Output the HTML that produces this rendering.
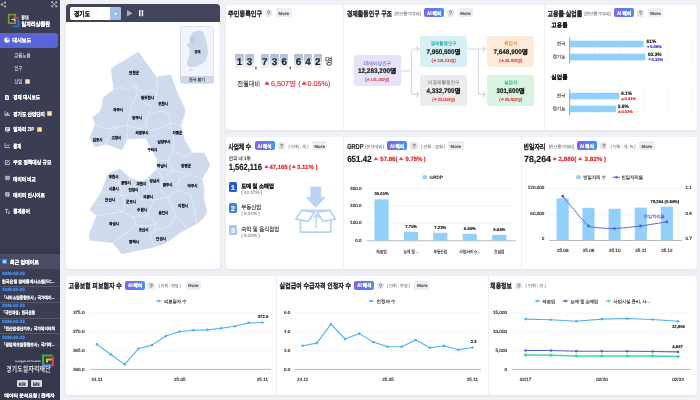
<!DOCTYPE html><html lang="ko"><head><meta charset="utf-8"><title>dashboard</title><style>
*{box-sizing:border-box;margin:0;padding:0}
html,body{width:700px;height:400px;overflow:hidden;background:#f0f1f7;font-family:"Liberation Sans",sans-serif;color:#222}
.a{position:absolute;white-space:nowrap;line-height:1}
.p{position:absolute;background:#fff;border-radius:3px;box-shadow:0 1px 2.5px rgba(90,100,140,.11)}
.ai{position:absolute;height:9.2px;border-radius:2px;background:linear-gradient(90deg,#7f64f0,#4690f3)}
.q{position:absolute;width:7.4px;height:7.4px;border-radius:50%;background:#e4e5ea}
.m{position:absolute;height:9.2px;border-radius:2px;background:#edeef1}
.n{position:absolute;background:#f5b921;width:5px;height:5px;border-radius:1px}
.dv{position:absolute;width:.9px;background:#eef0f4}
svg{position:absolute;left:0;top:0;overflow:visible}
svg text{font-family:"Liberation Sans",sans-serif;text-rendering:geometricPrecision}
</style></head><body>
<div class="a" style="left:0;top:0;width:59.7px;height:400px;background:#3b3d53"></div>
<svg style="left:.3px;top:1.2px" width="7.4" height="7.4" viewBox="0 0 8 8"><g fill="#c8cad6"><circle cx="5.6" cy="1.6" r="1"/><circle cx="1.8" cy="3.8" r="1"/><circle cx="5.6" cy="6" r="1"/></g><path d="M5.6 1.6L1.8 3.8L5.6 6" stroke="#c8cad6" stroke-width=".6" fill="none"/></svg>
<svg style="left:50.6px;top:1.4px" width="6.6" height="6.6" viewBox="0 0 8 8"><path d="M1.2 1.2L6.8 6.8M6.8 1.2L1.2 6.8" stroke="#c8cad6" stroke-width=".9" fill="none"/><path d="M.9 2.8V.9H2.8M5.2 .9H7.1V2.8M7.1 5.2V7.1H5.2M2.8 7.1H.9V5.2" stroke="#d4d6e0" stroke-width="1" fill="none"/></svg>
<svg width="700" height="400" viewBox="0 0 700 400"><rect x="8.7" y="14.6" width="6.6" height="8.6" fill="none" stroke="#7f9a33" stroke-width="1.6"/><path d="M13.2 17.8H18.6" stroke="#d8402f" stroke-width="1.9" fill="none"/><path d="M18.4 18.6V26.4H12.8" stroke="#2f6fc4" stroke-width="1.9" fill="none"/><path d="M11.6 19.4H14.6V21.2" stroke="#e9eaf0" stroke-width="1" fill="none"/></svg>
<div class="a" style="left:0;top:32.8px;width:58.3px;height:15.6px;background:#5864da;border-radius:0 3px 3px 0"></div>
<svg style="left:4.4px;top:36.8px" width="6" height="6" viewBox="0 0 6 6"><circle cx="3" cy="3" r="2.8" fill="#f2f3fa"/><path d="M3 3V.2A2.8 2.8 0 0 1 5.8 3Z" fill="#5864da"/><path d="M3.6 2.4V.9A1.9 1.9 0 0 1 5.1 2.4Z" fill="#f2f3fa"/></svg>
<div class="n" style="left:25px;top:78.7px"></div>
<svg style="left:4.6px;top:94.5px" width="5" height="5" viewBox="0 0 5 5"><path d="M0 0H3L4 1V5H0Z" fill="#eceef4"/><path d="M1 2H3M1 3.4H3" stroke="#3b3d53" stroke-width=".6"/></svg>
<svg style="left:4.6px;top:111.1px" width="5" height="5" viewBox="0 0 5 5"><path d="M0 0V4.6H5" fill="none" stroke="#d9dbe4" stroke-width=".7"/><path d="M1.3 4V2M2.6 4V1M3.9 4V2.4" stroke="#d9dbe4" stroke-width=".8"/></svg>
<div class="n" style="left:47.2px;top:111.1px"></div>
<svg style="left:4.6px;top:126.9px" width="5" height="5" viewBox="0 0 5 5"><rect x="0" y=".2" width="5" height="3.6" fill="#eceef4"/><path d="M.8 4.8H4.2" stroke="#eceef4" stroke-width=".7"/><path d="M.8 1.4H4.2M.8 2.6H3" stroke="#3b3d53" stroke-width=".5"/></svg>
<div class="n" style="left:37.4px;top:126.9px"></div>
<svg style="left:4.6px;top:143.1px" width="5" height="5" viewBox="0 0 5 5"><path d="M0 0V4.6H5" fill="none" stroke="#d9dbe4" stroke-width=".7"/><path d="M1 3.4L2.3 2.2L3.2 2.9L4.6 1.2" fill="none" stroke="#d9dbe4" stroke-width=".7"/></svg>
<svg style="left:4.6px;top:159.7px" width="5" height="5" viewBox="0 0 5 5"><path d="M.3 .6H3M.3 .6V4.6H4.4V2.6" fill="none" stroke="#eceef4" stroke-width=".7"/><path d="M1.6 3.4L4.6 .2" stroke="#eceef4" stroke-width=".9"/></svg>
<svg style="left:4.6px;top:176.1px" width="5" height="5" viewBox="0 0 5 5"><path d="M0 .3H5M2.5 .3V2M1 .5L.2 3H1.9ZM4 .5L3.2 3H4.9Z" fill="none" stroke="#eceef4" stroke-width=".6"/><path d="M1.4 4.6L2.5 2L3.6 4.6" fill="none" stroke="#eceef4" stroke-width=".6"/></svg>
<svg style="left:4.6px;top:192.4px" width="5" height="5" viewBox="0 0 5 5"><rect x=".3" y=".3" width="4.2" height="4.2" fill="#d9dbe4"/><path d="M1.2 1.6H3.6M1.2 2.6H3.6M1.2 3.5H2.8" stroke="#3b3d53" stroke-width=".45"/></svg>
<svg style="left:4.6px;top:208.7px" width="5" height="5" viewBox="0 0 5 5"><path d="M0 .4H3.2M1.6 .4V4.4" stroke="#eceef4" stroke-width=".7" fill="none"/><path d="M2.8 3H5M3 4.4H4.8" stroke="#eceef4" stroke-width=".7"/></svg>
<div class="a" style="left:0;top:246px;width:59.7px;height:8px;background:linear-gradient(rgba(40,42,60,0),rgba(40,42,60,.4))"></div>
<div class="a" style="left:0;top:254px;width:59.7px;height:15px;background:#4a4d65"></div>
<div class="a" style="left:2px;top:259px;width:5.2px;height:5.4px;background:#3d8bf2;border-radius:1px"></div>
<div class="a" style="left:0;top:349px;width:59.7px;height:51px;background:#35374c"></div>
<div class="a" style="left:0;top:285.6px;width:59.7px;height:.7px;background:#55586f"></div>
<div class="a" style="left:0;top:302px;width:59.7px;height:.7px;background:#55586f"></div>
<div class="a" style="left:0;top:317.6px;width:59.7px;height:.7px;background:#55586f"></div>
<div class="a" style="left:0;top:332.8px;width:59.7px;height:.7px;background:#55586f"></div>
<svg width="700" height="400" viewBox="0 0 700 400"><path d="M42 354.4H52.5V356.6H44.2V364H42Z" fill="#3fae49"/><path d="M42 364H52.5V366.4H42Z" fill="#2b7fd6"/><path d="M51.8 356.6H54V366.4H51.8Z" fill="#e8412c"/><path d="M46 358.4H51.8V360.4H48V362.4H46Z" fill="#f5b921"/></svg>
<div class="a" style="left:17px;top:380.4px;width:10.5px;height:6.7px;background:#d6d8df;border-radius:1px"></div>
<div class="a" style="left:31px;top:380.4px;width:10.5px;height:6.7px;background:#d6d8df;border-radius:1px"></div>
<div class="p" style="left:65.9px;top:4.2px;width:154px;height:265.2px"></div>
<div class="a" style="left:65.9px;top:4.2px;width:154px;height:18.2px;background:#41445b;border-radius:3.5px 3.5px 0 0"></div>
<div class="a" style="left:70.3px;top:7.4px;width:50.6px;height:12.6px;background:#fff;border-radius:2px"></div>
<div class="a" style="left:110px;top:7.4px;width:10.9px;height:12.6px;background:#9fbfe9;border-radius:0 2px 2px 0"></div>
<svg style="left:113.9px;top:12.7px" width="3.2" height="2.2" viewBox="0 0 3.2 2.2"><path d="M0 0H3.2L1.6 2.2Z" fill="#fff"/></svg>
<svg style="left:127.2px;top:10px" width="5.6" height="6.6" viewBox="0 0 5.6 6.6"><path d="M0 0L5.6 3.3L0 6.6Z" fill="#a9acc1"/></svg>
<svg style="left:138.6px;top:10.2px" width="4.2" height="6.2" viewBox="0 0 4.2 6.2"><path d="M0 0H1.5V6.2H0ZM2.7 0H4.2V6.2H2.7Z" fill="#eef0f6"/></svg>
<div class="a" style="left:179.6px;top:26px;width:34.7px;height:58px;background:#f2f5fb;border:.8px solid #d9e1f0;border-radius:2.5px"></div>
<div class="a" style="left:180.2px;top:75.6px;width:33.5px;height:7.8px;background:#cdd8ec;border-radius:0 0 2px 2px"></div>
<svg width="700" height="400" viewBox="0 0 700 400"><path d="M191.2 34.4L194.5 31.8L199.1 30.6L202.7 32.2L204.4 36L205.7 40.2L206.9 45L207.7 49.2L207.4 55L205.4 60.8L203.2 62.8L200.8 64.1L197.5 65.6L194.2 66.6L191 66.8L188.4 66.2L187.4 64L187.2 61.6L188.6 58.2L189.5 55L190 51.5L190 48.4L188 46.6L186.7 44.3L188.8 43.6L190.9 42.6L190.2 40.4L190 38.5L190.4 36.2Z" fill="#cdd8ec" stroke="#c0cde6" stroke-width=".3"/><ellipse cx="191.2" cy="69.9" rx="2.3" ry=".8" transform="rotate(-12 191.2 69.9)" fill="#cdd8ec"/><path d="M190.6 38.6L192.8 37.6L194.6 39L194.4 41.6L192.4 42.8L190.8 41.8Z" fill="#c4d1ea" stroke="#8e9dbd" stroke-width=".35"/></svg>
<svg width="700" height="400" viewBox="0 0 700 400"><polygon points="138.3,52 156.7,77.4 158.5,76.5 170.7,75.1 177.7,94 184.7,108 185,113 181,125 184,139 192,153 204,153 210,165 202,179 203.8,188 203.8,199.8 207,212 202.7,218.9 197,223.4 187,229 180,232.4 170,240.3 164.4,243.6 154.3,247 137.4,250.4 121.6,253.8 116,247 112.6,242.5 101.4,241.4 90,240.3 89,234.6 96.9,215.5 90,209.9 93.5,204.3 101.4,191.9 104,185 108,174 120,169 130,178 142,182 148,178 157,169 157,159 149,144 146,138 127,139 122,150 106,144 95,147 90,138 95,125 93,117 99,113 101.5,108 103.4,97.5 113.9,89.6 111.2,68.6" fill="#cfdaee" stroke="#cfdaee" stroke-width=".6" stroke-linejoin="round"/><polyline points="113.9,89.6 120,87 127,89.6 135.7,85.2 137.5,87.9 142.7,94 145.3,91.4 152.3,90.5 156.7,94 157.6,85.2 156.7,77.4" fill="none" stroke="#fff" stroke-opacity=".85" stroke-width=".45" stroke-linejoin="round"/><polyline points="142.7,94 141,99.2 144.5,103.6 151.5,105.3 155,101 156.7,94" fill="none" stroke="#fff" stroke-opacity=".85" stroke-width=".45" stroke-linejoin="round"/><polyline points="135.7,85.2 136.6,95.7 132.2,104.5 129.6,115 127,125 127,139" fill="none" stroke="#fff" stroke-opacity=".85" stroke-width=".45" stroke-linejoin="round"/><polyline points="95,125 106,129 118,127 127,125" fill="none" stroke="#fff" stroke-opacity=".85" stroke-width=".45" stroke-linejoin="round"/><polyline points="151.5,105.3 148,115 146,125 140,129 130,126 127,125" fill="none" stroke="#fff" stroke-opacity=".85" stroke-width=".45" stroke-linejoin="round"/><polyline points="148,115 160,111 168,113 170,123 181,125" fill="none" stroke="#fff" stroke-opacity=".85" stroke-width=".45" stroke-linejoin="round"/><polyline points="146,125 149,131 164,127 170,123" fill="none" stroke="#fff" stroke-opacity=".85" stroke-width=".45" stroke-linejoin="round"/><polyline points="149,131 146,138" fill="none" stroke="#fff" stroke-opacity=".85" stroke-width=".45" stroke-linejoin="round"/><polyline points="170,123 174,139 173,151 184,157 192,153" fill="none" stroke="#fff" stroke-opacity=".85" stroke-width=".45" stroke-linejoin="round"/><polyline points="173,151 168,161 157,159" fill="none" stroke="#fff" stroke-opacity=".85" stroke-width=".45" stroke-linejoin="round"/><polyline points="168,161 174,171 157,169" fill="none" stroke="#fff" stroke-opacity=".85" stroke-width=".45" stroke-linejoin="round"/><polyline points="174,171 188,174 202,179" fill="none" stroke="#fff" stroke-opacity=".85" stroke-width=".45" stroke-linejoin="round"/><polyline points="188,174 185.8,176 179,179.5 176.8,190.8" fill="none" stroke="#fff" stroke-opacity=".85" stroke-width=".45" stroke-linejoin="round"/><polyline points="176.8,190.8 167.8,197.5 154.3,199.8" fill="none" stroke="#fff" stroke-opacity=".85" stroke-width=".45" stroke-linejoin="round"/><polyline points="176.8,190.8 190.3,194 194,210 197,223.4" fill="none" stroke="#fff" stroke-opacity=".85" stroke-width=".45" stroke-linejoin="round"/><polyline points="154.3,199.8 147.5,215.5 156.5,223.4 154.3,231.3 170,225.6 175.7,215.5 167.8,197.5" fill="none" stroke="#fff" stroke-opacity=".85" stroke-width=".45" stroke-linejoin="round"/><polyline points="175.7,215.5 187,229" fill="none" stroke="#fff" stroke-opacity=".85" stroke-width=".45" stroke-linejoin="round"/><polyline points="96.9,215.5 122.8,212 133,216.6 147.5,215.5" fill="none" stroke="#fff" stroke-opacity=".85" stroke-width=".45" stroke-linejoin="round"/><polyline points="112.6,242.5 127.3,232.4 136.3,225.6 133,216.6" fill="none" stroke="#fff" stroke-opacity=".85" stroke-width=".45" stroke-linejoin="round"/><polyline points="136.3,225.6 147.5,225.6 156.5,223.4" fill="none" stroke="#fff" stroke-opacity=".85" stroke-width=".45" stroke-linejoin="round"/><polyline points="154.3,231.3 149.8,235.8 154.3,247" fill="none" stroke="#fff" stroke-opacity=".85" stroke-width=".45" stroke-linejoin="round"/><polyline points="93.5,204.3 109.3,205.4 122.8,212" fill="none" stroke="#fff" stroke-opacity=".85" stroke-width=".45" stroke-linejoin="round"/><polyline points="101.4,191.9 122.8,195.3 125,204.3 122.8,212" fill="none" stroke="#fff" stroke-opacity=".85" stroke-width=".45" stroke-linejoin="round"/><polyline points="122.8,195.3 136.3,194 140.8,199.8 154.3,199.8" fill="none" stroke="#fff" stroke-opacity=".85" stroke-width=".45" stroke-linejoin="round"/><polyline points="136.3,194 134,184 130,178" fill="none" stroke="#fff" stroke-opacity=".85" stroke-width=".45" stroke-linejoin="round"/><polyline points="108,174 118,183 122.8,195.3" fill="none" stroke="#fff" stroke-opacity=".85" stroke-width=".45" stroke-linejoin="round"/><polyline points="118,183 130,178" fill="none" stroke="#fff" stroke-opacity=".85" stroke-width=".45" stroke-linejoin="round"/><polyline points="148,178 150,188 140.8,199.8" fill="none" stroke="#fff" stroke-opacity=".85" stroke-width=".45" stroke-linejoin="round"/><polyline points="157,169 162,178 160,190 167.8,197.5" fill="none" stroke="#fff" stroke-opacity=".85" stroke-width=".45" stroke-linejoin="round"/><polyline points="162,178 174,171" fill="none" stroke="#fff" stroke-opacity=".85" stroke-width=".45" stroke-linejoin="round"/><polyline points="106,144 110,132 118,127" fill="none" stroke="#fff" stroke-opacity=".85" stroke-width=".45" stroke-linejoin="round"/></svg>
<div class="p" style="left:225.7px;top:4.5px;width:471.4px;height:125.4px"></div>
<div class="dv" style="left:343.1px;top:4.5px;height:125.4px"></div>
<div class="dv" style="left:544.1px;top:4.5px;height:125.4px"></div>
<div class="q" style="left:265.0px;top:9.2px"></div>
<div class="m" style="left:276px;top:8.2px;width:15.6px"></div>
<div class="a" style="left:235.1px;top:54px;width:8.6px;height:14.2px;border-radius:1.2px;background:linear-gradient(#b2bdd3 0,#c8d1e1 48%,#dbe1ec 52%,#f0f2f7 100%)"></div>
<div class="a" style="left:245.1px;top:54px;width:8.6px;height:14.2px;border-radius:1.2px;background:linear-gradient(#b2bdd3 0,#c8d1e1 48%,#dbe1ec 52%,#f0f2f7 100%)"></div>
<div class="a" style="left:260.5px;top:54px;width:8.6px;height:14.2px;border-radius:1.2px;background:linear-gradient(#b2bdd3 0,#c8d1e1 48%,#dbe1ec 52%,#f0f2f7 100%)"></div>
<div class="a" style="left:270.2px;top:54px;width:8.6px;height:14.2px;border-radius:1.2px;background:linear-gradient(#b2bdd3 0,#c8d1e1 48%,#dbe1ec 52%,#f0f2f7 100%)"></div>
<div class="a" style="left:279.9px;top:54px;width:8.6px;height:14.2px;border-radius:1.2px;background:linear-gradient(#b2bdd3 0,#c8d1e1 48%,#dbe1ec 52%,#f0f2f7 100%)"></div>
<div class="a" style="left:294.1px;top:54px;width:8.6px;height:14.2px;border-radius:1.2px;background:linear-gradient(#b2bdd3 0,#c8d1e1 48%,#dbe1ec 52%,#f0f2f7 100%)"></div>
<div class="a" style="left:303.8px;top:54px;width:8.6px;height:14.2px;border-radius:1.2px;background:linear-gradient(#b2bdd3 0,#c8d1e1 48%,#dbe1ec 52%,#f0f2f7 100%)"></div>
<div class="a" style="left:313.5px;top:54px;width:8.6px;height:14.2px;border-radius:1.2px;background:linear-gradient(#b2bdd3 0,#c8d1e1 48%,#dbe1ec 52%,#f0f2f7 100%)"></div>
<div class="ai" style="left:424px;top:8.2px;width:20.2px"></div>
<div class="q" style="left:446.8px;top:9.2px"></div>
<div class="m" style="left:457.7px;top:8.2px;width:15.6px"></div>
<div class="a" style="left:353.7px;top:55.3px;width:47px;height:31px;background:#e6e4fb;border-radius:3px"></div>
<div class="a" style="left:420.2px;top:36.2px;width:47px;height:31px;background:#d6f0f4;border-radius:3px"></div>
<div class="a" style="left:420.2px;top:74.8px;width:47px;height:31px;background:#ececee;border-radius:3px"></div>
<div class="a" style="left:487.3px;top:36.2px;width:47px;height:31px;background:#fdebd9;border-radius:3px"></div>
<div class="a" style="left:487.3px;top:74.8px;width:47px;height:31px;background:#d9f4e3;border-radius:3px"></div>
<svg width="700" height="400" viewBox="0 0 700 400"><g fill="none" stroke="#d6d8df" stroke-width="1.1" stroke-linecap="round" stroke-linejoin="round"><path d="M401 71H411.6M418.6 49H413.6Q411.6 49 411.6 51V92.4Q411.6 94.4 413.6 94.4H418.6"/><path d="M416.6 46.8L419 49L416.6 51.2M416.6 92.2L419 94.4L416.6 96.6"/><path d="M468 49H485M478.4 49V92.4Q478.4 94.4 480.4 94.4H485"/><path d="M483 46.8L485.4 49L483 51.2M483 92.2L485.4 94.4L483 96.6"/></g></svg>
<div class="ai" style="left:613.9px;top:8.2px;width:20.2px"></div>
<div class="q" style="left:636.8px;top:9.2px"></div>
<div class="m" style="left:647.7px;top:8.2px;width:15.6px"></div>
<svg width="700" height="400" viewBox="0 0 700 400"><line x1="594.6" y1="37.4" x2="594.6" y2="63.4" stroke="#eceef2" stroke-width=".6"/><line x1="619.4" y1="37.4" x2="619.4" y2="63.4" stroke="#eceef2" stroke-width=".6"/><line x1="643.8" y1="37.4" x2="643.8" y2="63.4" stroke="#eceef2" stroke-width=".6"/><line x1="668.2" y1="37.4" x2="668.2" y2="63.4" stroke="#eceef2" stroke-width=".6"/><line x1="691.6" y1="37.4" x2="691.6" y2="63.4" stroke="#eceef2" stroke-width=".6"/><line x1="569.7" y1="37.4" x2="569.7" y2="63.4" stroke="#555" stroke-width=".6"/><line x1="594.6" y1="89.4" x2="594.6" y2="115.4" stroke="#eceef2" stroke-width=".6"/><line x1="619.4" y1="89.4" x2="619.4" y2="115.4" stroke="#eceef2" stroke-width=".6"/><line x1="643.8" y1="89.4" x2="643.8" y2="115.4" stroke="#eceef2" stroke-width=".6"/><line x1="668.2" y1="89.4" x2="668.2" y2="115.4" stroke="#eceef2" stroke-width=".6"/><line x1="691.6" y1="89.4" x2="691.6" y2="115.4" stroke="#eceef2" stroke-width=".6"/><line x1="569.7" y1="89.4" x2="569.7" y2="115.4" stroke="#555" stroke-width=".6"/><rect x="570" y="40.7" width="73.5" height="6.6" fill="#90d0fa"/><rect x="570" y="53.7" width="75.3" height="6.6" fill="#90d0fa"/><rect x="570" y="92.8" width="49.2" height="6.6" fill="#90d0fa"/><rect x="570" y="105.6" width="45.9" height="6.6" fill="#90d0fa"/></svg>
<div class="p" style="left:225.7px;top:136.8px;width:471.4px;height:132.6px"></div>
<div class="dv" style="left:343.1px;top:136.8px;height:132.6px"></div>
<div class="dv" style="left:521.1px;top:136.8px;height:132.6px"></div>
<div class="ai" style="left:254.5px;top:141.2px;width:20.2px"></div>
<div class="q" style="left:277.8px;top:142.2px"></div>
<div class="m" style="left:311.9px;top:141.2px;width:15.6px"></div>
<div class="a" style="left:228.9px;top:182.3px;width:8.1px;height:10.2px;background:#1f5fd2;border-radius:1.6px"></div>
<div class="a" style="left:228.9px;top:203px;width:8.1px;height:10.2px;background:#3b86ea;border-radius:1.6px"></div>
<div class="a" style="left:228.9px;top:224.9px;width:8.1px;height:10.2px;background:#a3c8f3;border-radius:1.6px"></div>
<svg width="700" height="400" viewBox="0 0 700 400"><path d="M310.6 186.9H320.8V197.4H325.4L315.7 207.4L306 197.4H310.6Z" fill="#b9d2f5" stroke="#b9d2f5" stroke-width=".5" stroke-linejoin="round"/><g fill="none" stroke="#b9d2f5" stroke-width="1.7" stroke-linejoin="round" stroke-linecap="round"><path d="M301.4 210.4L295.8 219.2L308.2 221.4L314.4 212.2ZM330 210.4L335.4 219.2L323.2 221.4L317.2 212.2ZM301.4 210.4H330M300.4 221.6V232.2H330.8V221.6"/><path d="M316.2 227.6V214.6M313.6 217.6L316.2 214.4L318.8 217.6" stroke-width="1.3"/></g></svg>
<div class="ai" style="left:387px;top:141.2px;width:20.2px"></div>
<div class="q" style="left:410.3px;top:142.2px"></div>
<div class="m" style="left:448px;top:141.2px;width:15.6px"></div>
<svg width="700" height="400" viewBox="0 0 700 400"><circle cx="424.8" cy="177.2" r="2.3" fill="#90d0fa"/><line x1="366.6" y1="188.6" x2="515.7" y2="188.6" stroke="#eceef2" stroke-width=".6"/><line x1="366.6" y1="206" x2="515.7" y2="206" stroke="#eceef2" stroke-width=".6"/><line x1="366.6" y1="223.4" x2="515.7" y2="223.4" stroke="#eceef2" stroke-width=".6"/><line x1="366.6" y1="240.8" x2="515.7" y2="240.8" stroke="#888" stroke-width=".6"/><rect x="374.5" y="199.4" width="14.2" height="41.2" fill="#90d0fa"/><rect x="404" y="231.8" width="14.2" height="8.8" fill="#90d0fa"/><rect x="433.2" y="232.8" width="14.2" height="7.8" fill="#90d0fa"/><rect x="462.7" y="233.8" width="14.2" height="6.8" fill="#90d0fa"/><rect x="492.2" y="234.9" width="14.2" height="5.7" fill="#90d0fa"/></svg>
<div class="ai" style="left:576.8px;top:141.2px;width:20.2px"></div>
<div class="q" style="left:600.1px;top:142.2px"></div>
<div class="m" style="left:639px;top:141.2px;width:15.6px"></div>
<svg width="700" height="400" viewBox="0 0 700 400"><circle cx="578.4" cy="177.2" r="2.3" fill="#90d0fa"/><line x1="612.5" y1="177.3" x2="620" y2="177.3" stroke="#5b5fc7" stroke-width=".9"/><circle cx="616.3" cy="177.3" r="1.3" fill="#5b5fc7"/><line x1="549.5" y1="188.6" x2="682" y2="188.6" stroke="#eceef2" stroke-width=".6"/><line x1="549.5" y1="214.6" x2="682" y2="214.6" stroke="#eceef2" stroke-width=".6"/><line x1="549.5" y1="240.5" x2="682" y2="240.5" stroke="#888" stroke-width=".6"/><rect x="556.6" y="198.4" width="12.1" height="41.9" fill="#90d0fa"/><rect x="582.4" y="207.8" width="12.1" height="32.5" fill="#90d0fa"/><rect x="608.6" y="208.8" width="12.1" height="31.5" fill="#90d0fa"/><rect x="634.8" y="207.6" width="12.1" height="32.7" fill="#90d0fa"/><rect x="660.8" y="206.7" width="12.1" height="33.6" fill="#90d0fa"/><path d="M562.8 196.2C564.3 198.0 585.4 224.1 588.5 226C591.6 227.9 611.3 228.6 614.4 228.6C617.5 228.6 637.5 226.4 640.6 226C643.7 225.6 665.2 222.1 666.8 221.9" fill="none" stroke="#5b5fc7" stroke-width=".95"/><circle cx="562.8" cy="196.2" r="1.45" fill="#5b5fc7"/><circle cx="588.5" cy="226" r="1.45" fill="#5b5fc7"/><circle cx="614.4" cy="228.6" r="1.45" fill="#5b5fc7"/><circle cx="640.6" cy="226" r="1.45" fill="#5b5fc7"/><circle cx="666.8" cy="221.9" r="1.45" fill="#5b5fc7"/></svg>
<div class="p" style="left:65.9px;top:276px;width:631.2px;height:118.9px"></div>
<div class="dv" style="left:276px;top:276px;height:118.9px"></div>
<div class="dv" style="left:488px;top:276px;height:118.9px"></div>
<div class="ai" style="left:125px;top:280.8px;width:20.2px"></div>
<div class="q" style="left:147.3px;top:281.8px"></div>
<div class="m" style="left:185.5px;top:280.8px;width:15.6px"></div>
<div class="ai" style="left:354.3px;top:280.8px;width:20.2px"></div>
<div class="q" style="left:376.6px;top:281.8px"></div>
<div class="m" style="left:414.4px;top:280.8px;width:15.6px"></div>
<div class="q" style="left:515.1px;top:281.8px"></div>
<svg width="700" height="400" viewBox="0 0 700 400"><line x1="90.4" y1="313.2" x2="270.9" y2="313.2" stroke="#eceef2" stroke-width=".6"/><line x1="90.4" y1="331.9" x2="270.9" y2="331.9" stroke="#eceef2" stroke-width=".6"/><line x1="90.4" y1="350.6" x2="270.9" y2="350.6" stroke="#eceef2" stroke-width=".6"/><line x1="90.4" y1="369.4" x2="270.9" y2="369.4" stroke="#888" stroke-width=".6"/><polyline points="97.0,344.4 110.8,354.5 124.6,364.4 138.3,348.8 152.1,345.1 165.9,336.0 179.7,331.5 193.5,330.3 207.3,329.9 221.1,328.3 234.8,326.2 248.6,322.9 262.4,322.5" fill="none" stroke="#4db4ea" stroke-width="1.1" stroke-linejoin="round"/><circle cx="97.0" cy="344.4" r="1.3" fill="#4db4ea"/><circle cx="110.8" cy="354.5" r="1.3" fill="#4db4ea"/><circle cx="124.6" cy="364.4" r="1.3" fill="#4db4ea"/><circle cx="138.3" cy="348.8" r="1.3" fill="#4db4ea"/><circle cx="152.1" cy="345.1" r="1.3" fill="#4db4ea"/><circle cx="165.9" cy="336.0" r="1.3" fill="#4db4ea"/><circle cx="179.7" cy="331.5" r="1.3" fill="#4db4ea"/><circle cx="193.5" cy="330.3" r="1.3" fill="#4db4ea"/><circle cx="207.3" cy="329.9" r="1.3" fill="#4db4ea"/><circle cx="221.1" cy="328.3" r="1.3" fill="#4db4ea"/><circle cx="234.8" cy="326.2" r="1.3" fill="#4db4ea"/><circle cx="248.6" cy="322.9" r="1.3" fill="#4db4ea"/><circle cx="262.4" cy="322.5" r="1.3" fill="#4db4ea"/><line x1="156" y1="301" x2="161.6" y2="301" stroke="#4db4ea" stroke-width=".9"/><circle cx="158.8" cy="301" r="1.2" fill="#4db4ea"/></svg>
<svg width="700" height="400" viewBox="0 0 700 400"><line x1="295.3" y1="313.2" x2="480.9" y2="313.2" stroke="#eceef2" stroke-width=".6"/><line x1="295.3" y1="331.9" x2="480.9" y2="331.9" stroke="#eceef2" stroke-width=".6"/><line x1="295.3" y1="350.6" x2="480.9" y2="350.6" stroke="#eceef2" stroke-width=".6"/><line x1="295.3" y1="369.4" x2="480.9" y2="369.4" stroke="#888" stroke-width=".6"/><polyline points="302.7,345.8 316.8,343.1 331.0,324.2 345.1,339.0 359.3,333.6 373.4,342.1 387.5,346.8 401.7,346.8 415.8,340.1 430.0,347.8 444.1,345.8 458.3,349.8 472.4,347.5" fill="none" stroke="#4db4ea" stroke-width="1.1" stroke-linejoin="round"/><circle cx="302.7" cy="345.8" r="1.3" fill="#4db4ea"/><circle cx="316.8" cy="343.1" r="1.3" fill="#4db4ea"/><circle cx="331.0" cy="324.2" r="1.3" fill="#4db4ea"/><circle cx="345.1" cy="339.0" r="1.3" fill="#4db4ea"/><circle cx="359.3" cy="333.6" r="1.3" fill="#4db4ea"/><circle cx="373.4" cy="342.1" r="1.3" fill="#4db4ea"/><circle cx="387.5" cy="346.8" r="1.3" fill="#4db4ea"/><circle cx="401.7" cy="346.8" r="1.3" fill="#4db4ea"/><circle cx="415.8" cy="340.1" r="1.3" fill="#4db4ea"/><circle cx="430.0" cy="347.8" r="1.3" fill="#4db4ea"/><circle cx="444.1" cy="345.8" r="1.3" fill="#4db4ea"/><circle cx="458.3" cy="349.8" r="1.3" fill="#4db4ea"/><circle cx="472.4" cy="347.5" r="1.3" fill="#4db4ea"/><line x1="368.5" y1="301" x2="374.1" y2="301" stroke="#4db4ea" stroke-width=".9"/><circle cx="371.3" cy="301" r="1.2" fill="#4db4ea"/></svg>
<svg width="700" height="400" viewBox="0 0 700 400"><line x1="512" y1="313.2" x2="690.9" y2="313.2" stroke="#eceef2" stroke-width=".6"/><line x1="512" y1="331.9" x2="690.9" y2="331.9" stroke="#eceef2" stroke-width=".6"/><line x1="512" y1="350.6" x2="690.9" y2="350.6" stroke="#eceef2" stroke-width=".6"/><line x1="512" y1="369.4" x2="690.9" y2="369.4" stroke="#888" stroke-width=".6"/><polyline points="525.5,319.1 550.9,319.8 576.3,321.2 601.8,319.1 627.2,318.5 652.6,319.5 678.0,321.2" fill="none" stroke="#4db4ea" stroke-width="1.1" stroke-linejoin="round"/><circle cx="525.5" cy="319.1" r="1.3" fill="#4db4ea"/><circle cx="550.9" cy="319.8" r="1.3" fill="#4db4ea"/><circle cx="576.3" cy="321.2" r="1.3" fill="#4db4ea"/><circle cx="601.8" cy="319.1" r="1.3" fill="#4db4ea"/><circle cx="627.2" cy="318.5" r="1.3" fill="#4db4ea"/><circle cx="652.6" cy="319.5" r="1.3" fill="#4db4ea"/><circle cx="678.0" cy="321.2" r="1.3" fill="#4db4ea"/><polyline points="525.5,350.5 550.9,350.5 576.3,351.2 601.8,351.2 627.2,351.2 652.6,351.5 678.0,351.9" fill="none" stroke="#5b5fc7" stroke-width="1.1" stroke-linejoin="round"/><circle cx="525.5" cy="350.5" r="1.3" fill="#5b5fc7"/><circle cx="550.9" cy="350.5" r="1.3" fill="#5b5fc7"/><circle cx="576.3" cy="351.2" r="1.3" fill="#5b5fc7"/><circle cx="601.8" cy="351.2" r="1.3" fill="#5b5fc7"/><circle cx="627.2" cy="351.2" r="1.3" fill="#5b5fc7"/><circle cx="652.6" cy="351.5" r="1.3" fill="#5b5fc7"/><circle cx="678.0" cy="351.9" r="1.3" fill="#5b5fc7"/><polyline points="525.5,354.9 550.9,355.2 576.3,355.9 601.8,355.9 627.2,355.9 652.6,355.9 678.0,356.5" fill="none" stroke="#3ddc97" stroke-width="1.5" stroke-linejoin="round"/><circle cx="525.5" cy="354.9" r="1.6" fill="#3ddc97"/><circle cx="550.9" cy="355.2" r="1.6" fill="#3ddc97"/><circle cx="576.3" cy="355.9" r="1.6" fill="#3ddc97"/><circle cx="601.8" cy="355.9" r="1.6" fill="#3ddc97"/><circle cx="627.2" cy="355.9" r="1.6" fill="#3ddc97"/><circle cx="652.6" cy="355.9" r="1.6" fill="#3ddc97"/><circle cx="678.0" cy="356.5" r="1.6" fill="#3ddc97"/><line x1="534.6" y1="301" x2="540.2" y2="301" stroke="#4db4ea" stroke-width=".9"/><circle cx="537.4" cy="301" r="1.2" fill="#4db4ea"/><line x1="562.6" y1="301" x2="568.2" y2="301" stroke="#5b5fc7" stroke-width=".9"/><circle cx="565.4" cy="301" r="1.2" fill="#5b5fc7"/><line x1="605.6" y1="301" x2="611.2" y2="301" stroke="#3ddc97" stroke-width=".9"/><circle cx="608.4" cy="301" r="1.2" fill="#3ddc97"/></svg>
<svg width="700" height="400" viewBox="0 0 700 400" style="pointer-events:none;will-change:transform"><text x="21.5" y="18.73" font-size="4.8" font-weight="bold" fill="#f4f4f8" stroke="#f4f4f8" stroke-width="0.18" textLength="7.5" lengthAdjust="spacingAndGlyphs">경기도</text>
<text x="21.5" y="25.83" font-size="6.2" font-weight="bold" fill="#fff" stroke="#fff" stroke-width="0.2" textLength="28.4" lengthAdjust="spacingAndGlyphs">일자리상황판</text>
<text x="12.6" y="42.02" font-size="5.6" font-weight="bold" fill="#fff" stroke="#fff" stroke-width="0.2" textLength="18.4" lengthAdjust="spacingAndGlyphs">대시보드</text>
<text x="14.2" y="57.42" font-size="5.6" fill="#c9cbdb" stroke="#c9cbdb" stroke-width="0.18" textLength="16.3" lengthAdjust="spacingAndGlyphs">고용노동</text>
<text x="14.2" y="69.62" font-size="5.6" fill="#c9cbdb" stroke="#c9cbdb" stroke-width="0.18" textLength="8.3" lengthAdjust="spacingAndGlyphs">인구</text>
<text x="14.2" y="83.22" font-size="5.6" fill="#c9cbdb" stroke="#c9cbdb" stroke-width="0.18" textLength="8.3" lengthAdjust="spacingAndGlyphs">산업</text>
<text x="27.5" y="82.67" font-size="3.8" font-weight="bold" fill="#fff" stroke="#fff" stroke-width="0.14" text-anchor="middle">N</text>
<text x="13.2" y="99.02" font-size="5.6" font-weight="bold" fill="#fff" stroke="#fff" stroke-width="0.2" textLength="26.8" lengthAdjust="spacingAndGlyphs">경제 대시보드</text>
<text x="13.2" y="115.62" font-size="5.6" font-weight="bold" fill="#fff" stroke="#fff" stroke-width="0.2" textLength="31.8" lengthAdjust="spacingAndGlyphs">경기도 산업단지</text>
<text x="49.7" y="115.07" font-size="3.8" font-weight="bold" fill="#fff" stroke="#fff" stroke-width="0.14" text-anchor="middle">N</text>
<text x="13.2" y="131.42" font-size="5.6" font-weight="bold" fill="#fff" stroke="#fff" stroke-width="0.2" textLength="21.0" lengthAdjust="spacingAndGlyphs">일자리 ZIP</text>
<text x="39.9" y="130.87" font-size="3.8" font-weight="bold" fill="#fff" stroke="#fff" stroke-width="0.14" text-anchor="middle">N</text>
<text x="13.2" y="147.62" font-size="5.6" font-weight="bold" fill="#fff" stroke="#fff" stroke-width="0.2" textLength="8.0" lengthAdjust="spacingAndGlyphs">통계</text>
<text x="13.2" y="164.22" font-size="5.6" font-weight="bold" fill="#fff" stroke="#fff" stroke-width="0.2" textLength="38.3" lengthAdjust="spacingAndGlyphs">주요 정책대상 규모</text>
<text x="13.2" y="180.62" font-size="5.6" font-weight="bold" fill="#fff" stroke="#fff" stroke-width="0.2" textLength="22.6" lengthAdjust="spacingAndGlyphs">데이터 비교</text>
<text x="13.2" y="196.92" font-size="5.6" font-weight="bold" fill="#fff" stroke="#fff" stroke-width="0.2" textLength="31.8" lengthAdjust="spacingAndGlyphs">데이터 인사이트</text>
<text x="13.2" y="213.22" font-size="5.6" font-weight="bold" fill="#fff" stroke="#fff" stroke-width="0.2" textLength="16.8" lengthAdjust="spacingAndGlyphs">통계용어</text>
<text x="4.6" y="263.17" font-size="3.8" font-weight="bold" fill="#fff" stroke="#fff" stroke-width="0.14" text-anchor="middle">N</text>
<text x="10" y="263.75" font-size="5.7" font-weight="bold" fill="#fff" stroke="#fff" stroke-width="0.2" textLength="29" lengthAdjust="spacingAndGlyphs">최근 업데이트</text>
<text x="2" y="274.62" font-size="4.5" font-weight="bold" fill="#4a98f7" stroke="#4a98f7" stroke-width="0.17" textLength="22.6" lengthAdjust="spacingAndGlyphs">2026-02-23</text>
<text x="2" y="282.66" font-size="4.6" font-weight="bold" fill="#ecedf3" stroke="#ecedf3" stroke-width="0.17" textLength="52.6" lengthAdjust="spacingAndGlyphs">한국은행 경제통계시스템(EC...</text>
<text x="2" y="291.22" font-size="4.5" font-weight="bold" fill="#4a98f7" stroke="#4a98f7" stroke-width="0.17" textLength="22.6" lengthAdjust="spacingAndGlyphs">2026-02-23</text>
<text x="2" y="298.66" font-size="4.6" font-weight="bold" fill="#ecedf3" stroke="#ecedf3" stroke-width="0.17" textLength="52.6" lengthAdjust="spacingAndGlyphs">「서비스업동향조사」국가데이...</text>
<text x="2" y="307.22" font-size="4.5" font-weight="bold" fill="#4a98f7" stroke="#4a98f7" stroke-width="0.17" textLength="22.6" lengthAdjust="spacingAndGlyphs">2026-02-23</text>
<text x="2" y="314.06" font-size="4.6" font-weight="bold" fill="#ecedf3" stroke="#ecedf3" stroke-width="0.17" textLength="33" lengthAdjust="spacingAndGlyphs">「국민계정」한국은행</text>
<text x="2" y="323.22" font-size="4.5" font-weight="bold" fill="#4a98f7" stroke="#4a98f7" stroke-width="0.17" textLength="22.6" lengthAdjust="spacingAndGlyphs">2026-02-23</text>
<text x="2" y="330.06" font-size="4.6" font-weight="bold" fill="#ecedf3" stroke="#ecedf3" stroke-width="0.17" textLength="53" lengthAdjust="spacingAndGlyphs">「전산업생산지수」국가데이터처</text>
<text x="2" y="338.82" font-size="4.5" font-weight="bold" fill="#4a98f7" stroke="#4a98f7" stroke-width="0.17" textLength="22.6" lengthAdjust="spacingAndGlyphs">2026-02-23</text>
<text x="2" y="346.06" font-size="4.6" font-weight="bold" fill="#ecedf3" stroke="#ecedf3" stroke-width="0.17" textLength="52.6" lengthAdjust="spacingAndGlyphs">「광업제조업동향조사」국가데...</text>
<path d="M7.0 366.4 H9.0 L7.4 369.0 M10.4 365.8 V369.8 M9.2 367.2 H10.4 M9.2 368.4 H10.4 M7.8 371.4 a1.3 1.1 0 1 0 2.6 0 a1.3 1.1 0 1 0 -2.6 0 M12.55 366.6 H14.75 L12.95 370.8 M16.05 365.6 V372.4 M21.1 366.2 H18.5 V368.6 H21.3 M19.9 368.8 V370.8 M17.7 371.0 H22.3 M23.85 367.0 a1.1 1.1 0 1 0 2.2 0 a1.1 1.1 0 1 0 -2.2 0 M27.15 365.6 V369.0 M24.05 369.8 H27.05 V370.9 H24.25 V372.2 H27.45 M29.0 366.6 H31.6 M30.4 366.6 L29.0 370.6 M30.2 368.2 L31.6 370.4 M32.6 365.6 V372.2 M32.6 368.4 H33.6 M34.75 366.4 H36.95 V368.0 H34.95 V369.8 H37.35 M38.35 365.6 V372.2 M39.9 366.8 H42.1 M41.1 366.8 L39.9 370.4 M40.9 368.2 L42.1 370.2 M42.9 366.0 V371.6 M42.9 368.4 H44.0 M44.1 365.6 V372.4 M48.05 366.2 H46.05 V368.4 H48.25 M49.25 365.6 V369.8 M49.25 367.4 H50.25 M46.25 370.2 V372.2 H49.85" fill="none" stroke="#f4f4f8" stroke-width=".75" stroke-linecap="round" stroke-linejoin="round"/>
<text x="15" y="361.66" font-size="2.4" fill="#d8d9e2" stroke="#d8d9e2" stroke-width="0.08" textLength="26" lengthAdjust="spacingAndGlyphs">Gyeonggido Job Foundation</text>
<text x="22.25" y="385.63" font-size="4.8" font-weight="bold" fill="#2a2c3a" stroke="#2a2c3a" stroke-width="0.18" text-anchor="middle">KR</text>
<text x="36.25" y="385.63" font-size="4.8" font-weight="bold" fill="#2a2c3a" stroke="#2a2c3a" stroke-width="0.18" text-anchor="middle">EN</text>
<text x="4.4" y="397.23" font-size="4.8" font-weight="bold" fill="#fff" stroke="#fff" stroke-width="0.18" textLength="50.0" lengthAdjust="spacingAndGlyphs">데이터 분석요청  |  관계자</text>
<text x="74" y="16.42" font-size="7" font-weight="bold" fill="#222" stroke="#222" stroke-width="0.2" textLength="16" lengthAdjust="spacingAndGlyphs">경기도</text>
<text x="189" y="81.36" font-size="4.6" fill="#2a2a33" stroke="#2a2a33" stroke-width="0.15" textLength="16" lengthAdjust="spacingAndGlyphs">전국 보기</text>
<text x="194.4" y="53.37" font-size="3.8" font-weight="bold" fill="#2a2a33" stroke="#2a2a33" stroke-width="0.14" textLength="6.2" lengthAdjust="spacingAndGlyphs">전국</text>
<text x="129.12" y="74.01" font-size="4.2" font-weight="bold" fill="#22222b" stroke="#22222b" stroke-width="0.15" textLength="9.8" lengthAdjust="spacingAndGlyphs">연천군</text>
<text x="141.1" y="98.61" font-size="4.2" font-weight="bold" fill="#22222b" stroke="#22222b" stroke-width="0.15" textLength="13.0" lengthAdjust="spacingAndGlyphs">동두천시</text>
<text x="158.32" y="104.71" font-size="4.2" font-weight="bold" fill="#22222b" stroke="#22222b" stroke-width="0.15" textLength="9.8" lengthAdjust="spacingAndGlyphs">포천시</text>
<text x="113.33" y="110.51" font-size="4.2" font-weight="bold" fill="#22222b" stroke="#22222b" stroke-width="0.15" textLength="9.8" lengthAdjust="spacingAndGlyphs">파주시</text>
<text x="132.12" y="118.91" font-size="4.2" font-weight="bold" fill="#22222b" stroke="#22222b" stroke-width="0.15" textLength="9.8" lengthAdjust="spacingAndGlyphs">양주시</text>
<text x="135.5" y="133.51" font-size="4.2" font-weight="bold" fill="#22222b" stroke="#22222b" stroke-width="0.15" textLength="13.0" lengthAdjust="spacingAndGlyphs">의정부시</text>
<text x="172.53" y="133.51" font-size="4.2" font-weight="bold" fill="#22222b" stroke="#22222b" stroke-width="0.15" textLength="9.8" lengthAdjust="spacingAndGlyphs">가평군</text>
<text x="92.72" y="140.91" font-size="4.2" font-weight="bold" fill="#22222b" stroke="#22222b" stroke-width="0.15" textLength="9.8" lengthAdjust="spacingAndGlyphs">김포시</text>
<text x="111.53" y="138.51" font-size="4.2" font-weight="bold" fill="#22222b" stroke="#22222b" stroke-width="0.15" textLength="9.8" lengthAdjust="spacingAndGlyphs">고양시</text>
<text x="157.5" y="143.11" font-size="4.2" font-weight="bold" fill="#22222b" stroke="#22222b" stroke-width="0.15" textLength="13.0" lengthAdjust="spacingAndGlyphs">남양주시</text>
<text x="147.53" y="150.91" font-size="4.2" font-weight="bold" fill="#22222b" stroke="#22222b" stroke-width="0.15" textLength="9.8" lengthAdjust="spacingAndGlyphs">구리시</text>
<text x="157.12" y="166.51" font-size="4.2" font-weight="bold" fill="#22222b" stroke="#22222b" stroke-width="0.15" textLength="9.8" lengthAdjust="spacingAndGlyphs">하남시</text>
<text x="181.12" y="167.11" font-size="4.2" font-weight="bold" fill="#22222b" stroke="#22222b" stroke-width="0.15" textLength="9.8" lengthAdjust="spacingAndGlyphs">양평군</text>
<text x="108.72" y="178.01" font-size="4.2" font-weight="bold" fill="#22222b" stroke="#22222b" stroke-width="0.15" textLength="9.8" lengthAdjust="spacingAndGlyphs">부천시</text>
<text x="120.92" y="183.51" font-size="4.2" font-weight="bold" fill="#22222b" stroke="#22222b" stroke-width="0.15" textLength="9.8" lengthAdjust="spacingAndGlyphs">광명시</text>
<text x="136.43" y="184.51" font-size="4.2" font-weight="bold" fill="#22222b" stroke="#22222b" stroke-width="0.15" textLength="9.8" lengthAdjust="spacingAndGlyphs">과천시</text>
<text x="149.62" y="181.81" font-size="4.2" font-weight="bold" fill="#22222b" stroke="#22222b" stroke-width="0.15" textLength="9.8" lengthAdjust="spacingAndGlyphs">성남시</text>
<text x="162.82" y="185.51" font-size="4.2" font-weight="bold" fill="#22222b" stroke="#22222b" stroke-width="0.15" textLength="9.8" lengthAdjust="spacingAndGlyphs">광주시</text>
<text x="187.62" y="187.11" font-size="4.2" font-weight="bold" fill="#22222b" stroke="#22222b" stroke-width="0.15" textLength="9.8" lengthAdjust="spacingAndGlyphs">여주시</text>
<text x="108.92" y="190.01" font-size="4.2" font-weight="bold" fill="#22222b" stroke="#22222b" stroke-width="0.15" textLength="9.8" lengthAdjust="spacingAndGlyphs">시흥시</text>
<text x="128.43" y="190.71" font-size="4.2" font-weight="bold" fill="#22222b" stroke="#22222b" stroke-width="0.15" textLength="9.8" lengthAdjust="spacingAndGlyphs">안양시</text>
<text x="143.32" y="197.51" font-size="4.2" font-weight="bold" fill="#22222b" stroke="#22222b" stroke-width="0.15" textLength="9.8" lengthAdjust="spacingAndGlyphs">의왕시</text>
<text x="105.12" y="200.51" font-size="4.2" font-weight="bold" fill="#22222b" stroke="#22222b" stroke-width="0.15" textLength="9.8" lengthAdjust="spacingAndGlyphs">안산시</text>
<text x="126.12" y="202.51" font-size="4.2" font-weight="bold" fill="#22222b" stroke="#22222b" stroke-width="0.15" textLength="9.8" lengthAdjust="spacingAndGlyphs">군포시</text>
<text x="137.12" y="210.91" font-size="4.2" font-weight="bold" fill="#22222b" stroke="#22222b" stroke-width="0.15" textLength="9.8" lengthAdjust="spacingAndGlyphs">수원시</text>
<text x="158.43" y="214.31" font-size="4.2" font-weight="bold" fill="#22222b" stroke="#22222b" stroke-width="0.15" textLength="9.8" lengthAdjust="spacingAndGlyphs">용인시</text>
<text x="178.12" y="206.91" font-size="4.2" font-weight="bold" fill="#22222b" stroke="#22222b" stroke-width="0.15" textLength="9.8" lengthAdjust="spacingAndGlyphs">이천시</text>
<text x="109.33" y="224.51" font-size="4.2" font-weight="bold" fill="#22222b" stroke="#22222b" stroke-width="0.15" textLength="9.8" lengthAdjust="spacingAndGlyphs">화성시</text>
<text x="138.82" y="230.51" font-size="4.2" font-weight="bold" fill="#22222b" stroke="#22222b" stroke-width="0.15" textLength="9.8" lengthAdjust="spacingAndGlyphs">오산시</text>
<text x="129.12" y="242.91" font-size="4.2" font-weight="bold" fill="#22222b" stroke="#22222b" stroke-width="0.15" textLength="9.8" lengthAdjust="spacingAndGlyphs">평택시</text>
<text x="156.12" y="240.01" font-size="4.2" font-weight="bold" fill="#22222b" stroke="#22222b" stroke-width="0.15" textLength="9.8" lengthAdjust="spacingAndGlyphs">안성시</text>
<text x="228" y="15.83" font-size="7.3" font-weight="bold" fill="#303037" stroke="#303037" stroke-width="0.2" textLength="34.3" lengthAdjust="spacingAndGlyphs">주민등록인구</text>
<text x="268.7" y="15.09" font-size="5.8" fill="#6d6f78" stroke="#6d6f78" stroke-width="0.18" text-anchor="middle">?</text>
<text x="283.8" y="14.58" font-size="4.4" font-weight="bold" fill="#5a5c66" stroke="#5a5c66" stroke-width="0.16" text-anchor="middle">More</text>
<text x="239.4" y="64.83" font-size="9.8" font-weight="bold" fill="#1e2230" stroke="#1e2230" stroke-width="0.2" text-anchor="middle">1</text>
<text x="249.4" y="64.83" font-size="9.8" font-weight="bold" fill="#1e2230" stroke="#1e2230" stroke-width="0.2" text-anchor="middle">3</text>
<text x="264.8" y="64.83" font-size="9.8" font-weight="bold" fill="#1e2230" stroke="#1e2230" stroke-width="0.2" text-anchor="middle">7</text>
<text x="274.5" y="64.83" font-size="9.8" font-weight="bold" fill="#1e2230" stroke="#1e2230" stroke-width="0.2" text-anchor="middle">3</text>
<text x="284.2" y="64.83" font-size="9.8" font-weight="bold" fill="#1e2230" stroke="#1e2230" stroke-width="0.2" text-anchor="middle">6</text>
<text x="298.4" y="64.83" font-size="9.8" font-weight="bold" fill="#1e2230" stroke="#1e2230" stroke-width="0.2" text-anchor="middle">6</text>
<text x="308.1" y="64.83" font-size="9.8" font-weight="bold" fill="#1e2230" stroke="#1e2230" stroke-width="0.2" text-anchor="middle">4</text>
<text x="317.8" y="64.83" font-size="9.8" font-weight="bold" fill="#1e2230" stroke="#1e2230" stroke-width="0.2" text-anchor="middle">2</text>
<text x="254.3" y="68.34" font-size="11.5" fill="#222" stroke="#222" stroke-width="0.12">,</text>
<text x="288.5" y="68.34" font-size="11.5" fill="#222" stroke="#222" stroke-width="0.12">,</text>
<text x="324.8" y="64.26" font-size="9.6" fill="#222" stroke="#222" stroke-width="0.12" textLength="8.0" lengthAdjust="spacingAndGlyphs" stroke="#222" stroke-width=".25">명</text>
<text x="237.6" y="85.69" font-size="7.2" fill="#333" stroke="#333" stroke-width="0.12" textLength="22.4" lengthAdjust="spacingAndGlyphs">전월대비</text>
<path d="M264.9 84.45H269.1L267.0 81.55Z" fill="#e0262b" stroke="#e0262b" stroke-width=".4" stroke-linejoin="round"/>
<text x="270.9" y="85.69" font-size="7.2" fill="#e0262b" stroke="#e0262b" stroke-width="0.12" textLength="29.9" lengthAdjust="spacingAndGlyphs">6,507명 (</text>
<path d="M302 84.45H306.2L304.1 81.55Z" fill="#e0262b" stroke="#e0262b" stroke-width=".4" stroke-linejoin="round"/>
<text x="307.5" y="85.69" font-size="7.2" fill="#e0262b" stroke="#e0262b" stroke-width="0.12" textLength="22.9" lengthAdjust="spacingAndGlyphs">0.05%)</text>
<text x="347" y="15.83" font-size="7.3" font-weight="bold" fill="#303037" stroke="#303037" stroke-width="0.2" textLength="45" lengthAdjust="spacingAndGlyphs">경제활동인구 구조</text>
<text x="394.6" y="14.88" font-size="4.4" fill="#85878f" stroke="#85878f" stroke-width="0.14" textLength="26.0" lengthAdjust="spacingAndGlyphs">[전년동기대비]</text>
<text x="427" y="14.84" font-size="5.4" font-weight="bold" fill="#fff" stroke="#fff" stroke-width="0.2" textLength="14.2" lengthAdjust="spacingAndGlyphs">AI 해석</text>
<text x="450.5" y="15.09" font-size="5.8" fill="#6d6f78" stroke="#6d6f78" stroke-width="0.18" text-anchor="middle">?</text>
<text x="465.5" y="14.58" font-size="4.4" font-weight="bold" fill="#5a5c66" stroke="#5a5c66" stroke-width="0.16" text-anchor="middle">More</text>
<text x="363.45" y="64.5" font-size="5" fill="#7d72d6" stroke="#7d72d6" stroke-width="0.16" textLength="27.5" lengthAdjust="spacingAndGlyphs">15세이상인구</text>
<text x="357.95" y="73.21" font-size="6.7" font-weight="bold" fill="#222" stroke="#222" stroke-width="0.2" textLength="38.5" lengthAdjust="spacingAndGlyphs">12,283,200명</text>
<text x="365.0" y="81.08" font-size="4.4" fill="#e0262b" stroke="#e0262b" stroke-width="0.14">(</text>
<path d="M367.0 80.3H369.4L368.2 78.5Z" fill="#e0262b" stroke="#e0262b" stroke-width=".4" stroke-linejoin="round"/>
<text x="370.6" y="81.08" font-size="4.4" fill="#e0262b" stroke="#e0262b" stroke-width="0.14" textLength="18.8" lengthAdjust="spacingAndGlyphs">141,100명)</text>
<text x="430.7" y="45.4" font-size="5" fill="#2aa5b5" stroke="#2aa5b5" stroke-width="0.16" textLength="26.0" lengthAdjust="spacingAndGlyphs">경제활동인구</text>
<text x="426.45" y="54.11" font-size="6.7" font-weight="bold" fill="#222" stroke="#222" stroke-width="0.2" textLength="34.5" lengthAdjust="spacingAndGlyphs">7,950,500명</text>
<text x="431.5" y="61.98" font-size="4.4" fill="#e0262b" stroke="#e0262b" stroke-width="0.14">(</text>
<path d="M433.5 61.2H435.9L434.7 59.4Z" fill="#e0262b" stroke="#e0262b" stroke-width=".4" stroke-linejoin="round"/>
<text x="437.1" y="61.98" font-size="4.4" fill="#e0262b" stroke="#e0262b" stroke-width="0.14" textLength="18.8" lengthAdjust="spacingAndGlyphs">118,100명)</text>
<text x="427.9" y="84.0" font-size="5" fill="#909098" stroke="#909098" stroke-width="0.16" textLength="31.6" lengthAdjust="spacingAndGlyphs">비경제활동인구</text>
<text x="426.45" y="92.71" font-size="6.7" font-weight="bold" fill="#222" stroke="#222" stroke-width="0.2" textLength="34.5" lengthAdjust="spacingAndGlyphs">4,332,700명</text>
<text x="432.2" y="100.58" font-size="4.4" fill="#e0262b" stroke="#e0262b" stroke-width="0.14">(</text>
<path d="M434.2 99.8H436.6L435.4 98.0Z" fill="#e0262b" stroke="#e0262b" stroke-width=".4" stroke-linejoin="round"/>
<text x="437.8" y="100.58" font-size="4.4" fill="#e0262b" stroke="#e0262b" stroke-width="0.14" textLength="17.4" lengthAdjust="spacingAndGlyphs">23,000명)</text>
<text x="504.2" y="45.4" font-size="5" fill="#f0902f" stroke="#f0902f" stroke-width="0.16" textLength="13.2" lengthAdjust="spacingAndGlyphs">취업자</text>
<text x="493.55" y="54.11" font-size="6.7" font-weight="bold" fill="#222" stroke="#222" stroke-width="0.2" textLength="34.5" lengthAdjust="spacingAndGlyphs">7,648,900명</text>
<text x="499.3" y="61.98" font-size="4.4" fill="#e0262b" stroke="#e0262b" stroke-width="0.14">(</text>
<path d="M501.3 61.2H503.7L502.5 59.4Z" fill="#e0262b" stroke="#e0262b" stroke-width=".4" stroke-linejoin="round"/>
<text x="504.9" y="61.98" font-size="4.4" fill="#e0262b" stroke="#e0262b" stroke-width="0.14" textLength="17.4" lengthAdjust="spacingAndGlyphs">49,300명)</text>
<text x="504.2" y="84.0" font-size="5" fill="#2bb673" stroke="#2bb673" stroke-width="0.16" textLength="13.2" lengthAdjust="spacingAndGlyphs">실업자</text>
<text x="496.55" y="92.71" font-size="6.7" font-weight="bold" fill="#222" stroke="#222" stroke-width="0.2" textLength="28.5" lengthAdjust="spacingAndGlyphs">301,600명</text>
<text x="499.3" y="100.58" font-size="4.4" fill="#e0262b" stroke="#e0262b" stroke-width="0.14">(</text>
<path d="M501.3 99.8H503.7L502.5 98.0Z" fill="#e0262b" stroke="#e0262b" stroke-width=".4" stroke-linejoin="round"/>
<text x="504.9" y="100.58" font-size="4.4" fill="#e0262b" stroke="#e0262b" stroke-width="0.14" textLength="17.4" lengthAdjust="spacingAndGlyphs">68,800명)</text>
<text x="547.5" y="15.83" font-size="7.3" font-weight="bold" fill="#303037" stroke="#303037" stroke-width="0.2" textLength="34.8" lengthAdjust="spacingAndGlyphs">고용률·실업률</text>
<text x="584.6" y="14.88" font-size="4.4" fill="#85878f" stroke="#85878f" stroke-width="0.14" textLength="26.0" lengthAdjust="spacingAndGlyphs">[전년동기대비]</text>
<text x="616.9" y="14.84" font-size="5.4" font-weight="bold" fill="#fff" stroke="#fff" stroke-width="0.2" textLength="14.2" lengthAdjust="spacingAndGlyphs">AI 해석</text>
<text x="640.5" y="15.09" font-size="5.8" fill="#6d6f78" stroke="#6d6f78" stroke-width="0.18" text-anchor="middle">?</text>
<text x="655.5" y="14.58" font-size="4.4" font-weight="bold" fill="#5a5c66" stroke="#5a5c66" stroke-width="0.16" text-anchor="middle">More</text>
<text x="551.3" y="27.23" font-size="6.2" font-weight="bold" fill="#222" stroke="#222" stroke-width="0.2" textLength="16.3" lengthAdjust="spacingAndGlyphs">고용률</text>
<text x="551.3" y="79.23" font-size="6.2" font-weight="bold" fill="#222" stroke="#222" stroke-width="0.2" textLength="16.3" lengthAdjust="spacingAndGlyphs">실업률</text>
<text x="556.8" y="45.26" font-size="4.6" fill="#333" stroke="#333" stroke-width="0.15" textLength="8.6" lengthAdjust="spacingAndGlyphs">전국</text>
<text x="552.8" y="58.26" font-size="4.6" fill="#333" stroke="#333" stroke-width="0.15" textLength="12.6" lengthAdjust="spacingAndGlyphs">경기도</text>
<text x="556.8" y="97.46" font-size="4.6" fill="#333" stroke="#333" stroke-width="0.15" textLength="8.6" lengthAdjust="spacingAndGlyphs">전국</text>
<text x="552.8" y="110.16" font-size="4.6" fill="#333" stroke="#333" stroke-width="0.15" textLength="12.6" lengthAdjust="spacingAndGlyphs">경기도</text>
<text x="646.6" y="43.43" font-size="4.8" font-weight="bold" fill="#222" stroke="#222" stroke-width="0.18">61%</text>
<path d="M646.9 45.9H649.4L648.15 47.9Z" fill="#2b2bd0"/>
<text x="650.2" y="48.44" font-size="4" font-weight="bold" fill="#2b2bd0" stroke="#2b2bd0" stroke-width="0.15">0.08%</text>
<text x="648" y="56.13" font-size="4.8" font-weight="bold" fill="#222" stroke="#222" stroke-width="0.18">62.3%</text>
<path d="M648.3 58.6H650.8L649.55 60.6Z" fill="#2b2bd0"/>
<text x="651.6" y="61.14" font-size="4" font-weight="bold" fill="#2b2bd0" stroke="#2b2bd0" stroke-width="0.15">0.32%</text>
<text x="621" y="95.43" font-size="4.8" font-weight="bold" fill="#222" stroke="#222" stroke-width="0.18">4.1%</text>
<path d="M621.3 99.9H623.8L622.55 97.9Z" fill="#e0262b" stroke="#e0262b" stroke-width=".4" stroke-linejoin="round"/>
<text x="624.6" y="100.44" font-size="4" font-weight="bold" fill="#e0262b" stroke="#e0262b" stroke-width="0.15">0.41%</text>
<text x="617.8" y="108.03" font-size="4.8" font-weight="bold" fill="#222" stroke="#222" stroke-width="0.18">3.8%</text>
<path d="M618.0999999999999 112.5H620.6L619.35 110.5Z" fill="#e0262b" stroke="#e0262b" stroke-width=".4" stroke-linejoin="round"/>
<text x="621.4" y="113.04" font-size="4" font-weight="bold" fill="#e0262b" stroke="#e0262b" stroke-width="0.15">0.02%</text>
<text x="228.4" y="148.83" font-size="7.3" font-weight="bold" fill="#303037" stroke="#303037" stroke-width="0.2" textLength="22.6" lengthAdjust="spacingAndGlyphs">사업체 수</text>
<text x="257.5" y="147.84" font-size="5.4" font-weight="bold" fill="#fff" stroke="#fff" stroke-width="0.2" textLength="14.2" lengthAdjust="spacingAndGlyphs">AI 해석</text>
<text x="281.5" y="148.09" font-size="5.8" fill="#6d6f78" stroke="#6d6f78" stroke-width="0.18" text-anchor="middle">?</text>
<text x="288.6" y="147.88" font-size="4.4" fill="#85878f" stroke="#85878f" stroke-width="0.14" textLength="19.9" lengthAdjust="spacingAndGlyphs">( 단위 : 개 )</text>
<text x="319.7" y="147.58" font-size="4.4" font-weight="bold" fill="#5a5c66" stroke="#5a5c66" stroke-width="0.16" text-anchor="middle">More</text>
<text x="228.8" y="160.47" font-size="5.2" fill="#3a3a40" stroke="#3a3a40" stroke-width="0.17" textLength="21.9" lengthAdjust="spacingAndGlyphs">전국 내 1위</text>
<text x="228.8" y="170.0" font-size="8.9" font-weight="bold" fill="#1b1b1b" stroke="#1b1b1b" stroke-width="0.2" textLength="33.1" lengthAdjust="spacingAndGlyphs">1,562,116</text>
<path d="M264.8 167.75H268.2L266.5 165.25Z" fill="#e0262b" stroke="#e0262b" stroke-width=".4" stroke-linejoin="round"/>
<text x="269.6" y="169.03" font-size="6.2" font-weight="bold" fill="#e0262b" stroke="#e0262b" stroke-width="0.2" textLength="21.4" lengthAdjust="spacingAndGlyphs">47,165 (</text>
<path d="M292.2 167.75H295.6L293.9 165.25Z" fill="#e0262b" stroke="#e0262b" stroke-width=".4" stroke-linejoin="round"/>
<text x="297" y="169.03" font-size="6.2" font-weight="bold" fill="#e0262b" stroke="#e0262b" stroke-width="0.2" textLength="20.6" lengthAdjust="spacingAndGlyphs">3.11% )</text>
<text x="232.95" y="190.02" font-size="7" font-weight="bold" fill="#fff" stroke="#fff" stroke-width="0.2" text-anchor="middle">1</text>
<text x="241.2" y="188.2" font-size="6.1" font-weight="bold" fill="#1b1b1b" stroke="#1b1b1b" stroke-width="0.2" textLength="32.8" lengthAdjust="spacingAndGlyphs">도매 및 소매업</text>
<text x="241.2" y="194.36" font-size="4.6" fill="#96979d" stroke="#96979d" stroke-width="0.15" textLength="21.2" lengthAdjust="spacingAndGlyphs">( 42.57% )</text>
<text x="232.95" y="210.72" font-size="7" font-weight="bold" fill="#fff" stroke="#fff" stroke-width="0.2" text-anchor="middle">2</text>
<text x="241.2" y="208.9" font-size="6.1" fill="#333" stroke="#333" stroke-width="0.18" textLength="20.2" lengthAdjust="spacingAndGlyphs">부동산업</text>
<text x="241.2" y="215.06" font-size="4.6" fill="#96979d" stroke="#96979d" stroke-width="0.15" textLength="18.6" lengthAdjust="spacingAndGlyphs">( 9.04% )</text>
<text x="232.95" y="232.62" font-size="7" font-weight="bold" fill="#fff" stroke="#fff" stroke-width="0.2" text-anchor="middle">3</text>
<text x="241.2" y="230.8" font-size="6.1" fill="#333" stroke="#333" stroke-width="0.18" textLength="38.2" lengthAdjust="spacingAndGlyphs">숙박 및 음식점업</text>
<text x="241.2" y="236.96" font-size="4.6" fill="#96979d" stroke="#96979d" stroke-width="0.15" textLength="18.6" lengthAdjust="spacingAndGlyphs">( 9.02% )</text>
<text x="347.2" y="148.83" font-size="7.3" font-weight="bold" fill="#303037" stroke="#303037" stroke-width="0.2" textLength="16.2" lengthAdjust="spacingAndGlyphs">GRDP</text>
<text x="365" y="147.88" font-size="4.4" fill="#85878f" stroke="#85878f" stroke-width="0.14" textLength="19" lengthAdjust="spacingAndGlyphs">(전년대비)</text>
<text x="390" y="147.84" font-size="5.4" font-weight="bold" fill="#fff" stroke="#fff" stroke-width="0.2" textLength="14.2" lengthAdjust="spacingAndGlyphs">AI 해석</text>
<text x="414" y="148.09" font-size="5.8" fill="#6d6f78" stroke="#6d6f78" stroke-width="0.18" text-anchor="middle">?</text>
<text x="421" y="147.88" font-size="4.4" fill="#85878f" stroke="#85878f" stroke-width="0.14" textLength="24.4" lengthAdjust="spacingAndGlyphs">( 단위 : 조원 )</text>
<text x="455.8" y="147.58" font-size="4.4" font-weight="bold" fill="#5a5c66" stroke="#5a5c66" stroke-width="0.16" text-anchor="middle">More</text>
<text x="347.2" y="162.1" font-size="8.9" font-weight="bold" fill="#1b1b1b" stroke="#1b1b1b" stroke-width="0.2" textLength="24.4" lengthAdjust="spacingAndGlyphs">651.42</text>
<path d="M374.2 159.85H377.6L375.9 157.35Z" fill="#e0262b" stroke="#e0262b" stroke-width=".4" stroke-linejoin="round"/>
<text x="380.3" y="161.13" font-size="6.2" font-weight="bold" fill="#e0262b" stroke="#e0262b" stroke-width="0.2" textLength="17.2" lengthAdjust="spacingAndGlyphs">57.86(</text>
<path d="M399.4 159.85H402.8L401.1 157.35Z" fill="#e0262b" stroke="#e0262b" stroke-width=".4" stroke-linejoin="round"/>
<text x="405.5" y="161.13" font-size="6.2" font-weight="bold" fill="#e0262b" stroke="#e0262b" stroke-width="0.2" textLength="20.3" lengthAdjust="spacingAndGlyphs">9.75% )</text>
<text x="361.6" y="189.66" font-size="4.6" fill="#2a2a2e" stroke="#2a2a2e" stroke-width="0.15" text-anchor="end">300.0</text>
<text x="361.6" y="207.06" font-size="4.6" fill="#2a2a2e" stroke="#2a2a2e" stroke-width="0.15" text-anchor="end">200.0</text>
<text x="361.6" y="224.46" font-size="4.6" fill="#2a2a2e" stroke="#2a2a2e" stroke-width="0.15" text-anchor="end">100.0</text>
<text x="361.6" y="241.86" font-size="4.6" fill="#2a2a2e" stroke="#2a2a2e" stroke-width="0.15" text-anchor="end">0.0</text>
<text x="429.6" y="179.06" font-size="4.6" fill="#2a2a2e" stroke="#2a2a2e" stroke-width="0.15">GRDP</text>
<text x="381.6" y="195.31" font-size="4.2" font-weight="bold" fill="#1c1c20" stroke="#1c1c20" stroke-width="0.15" text-anchor="middle">35.01%</text>
<text x="376.35" y="252.86" font-size="4.6" fill="#2a2a2e" stroke="#2a2a2e" stroke-width="0.15" textLength="10.5" lengthAdjust="spacingAndGlyphs">제조업</text>
<text x="411.1" y="227.71" font-size="4.2" font-weight="bold" fill="#1c1c20" stroke="#1c1c20" stroke-width="0.15" text-anchor="middle">7.71%</text>
<text x="403.6" y="252.86" font-size="4.6" fill="#2a2a2e" stroke="#2a2a2e" stroke-width="0.15" textLength="15.0" lengthAdjust="spacingAndGlyphs">도매 및 ...</text>
<text x="440.3" y="228.71" font-size="4.2" font-weight="bold" fill="#1c1c20" stroke="#1c1c20" stroke-width="0.15" text-anchor="middle">7.23%</text>
<text x="433.55" y="252.86" font-size="4.6" fill="#2a2a2e" stroke="#2a2a2e" stroke-width="0.15" textLength="13.5" lengthAdjust="spacingAndGlyphs">부동산업</text>
<text x="469.8" y="229.71" font-size="4.2" font-weight="bold" fill="#1c1c20" stroke="#1c1c20" stroke-width="0.15" text-anchor="middle">6.46%</text>
<text x="459.3" y="252.86" font-size="4.6" fill="#2a2a2e" stroke="#2a2a2e" stroke-width="0.15" textLength="21.0" lengthAdjust="spacingAndGlyphs">사업서비스...</text>
<text x="499.3" y="230.81" font-size="4.2" font-weight="bold" fill="#1c1c20" stroke="#1c1c20" stroke-width="0.15" text-anchor="middle">5.64%</text>
<text x="494.05" y="252.86" font-size="4.6" fill="#2a2a2e" stroke="#2a2a2e" stroke-width="0.15" textLength="10.5" lengthAdjust="spacingAndGlyphs">건설업</text>
<text x="523.5" y="148.83" font-size="7.3" font-weight="bold" fill="#303037" stroke="#303037" stroke-width="0.2" textLength="21.9" lengthAdjust="spacingAndGlyphs">빈일자리</text>
<text x="548.8" y="147.88" font-size="4.4" fill="#85878f" stroke="#85878f" stroke-width="0.14" textLength="25.2" lengthAdjust="spacingAndGlyphs">[전년동기대비]</text>
<text x="579.8" y="147.84" font-size="5.4" font-weight="bold" fill="#fff" stroke="#fff" stroke-width="0.2" textLength="14.2" lengthAdjust="spacingAndGlyphs">AI 해석</text>
<text x="603.8" y="148.09" font-size="5.8" fill="#6d6f78" stroke="#6d6f78" stroke-width="0.18" text-anchor="middle">?</text>
<text x="610.6" y="147.88" font-size="4.4" fill="#85878f" stroke="#85878f" stroke-width="0.14" textLength="24.9" lengthAdjust="spacingAndGlyphs">( 단위 : 개, % )</text>
<text x="646.8" y="147.58" font-size="4.4" font-weight="bold" fill="#5a5c66" stroke="#5a5c66" stroke-width="0.16" text-anchor="middle">More</text>
<text x="524" y="162.1" font-size="8.9" font-weight="bold" fill="#1b1b1b" stroke="#1b1b1b" stroke-width="0.2" textLength="27" lengthAdjust="spacingAndGlyphs">78,264</text>
<path d="M553 159.85H556.4L554.7 157.35Z" fill="#e0262b" stroke="#e0262b" stroke-width=".4" stroke-linejoin="round"/>
<text x="558.6" y="161.13" font-size="6.2" font-weight="bold" fill="#e0262b" stroke="#e0262b" stroke-width="0.2" textLength="17.8" lengthAdjust="spacingAndGlyphs">2,880(</text>
<path d="M578.5 159.85H581.9L580.2 157.35Z" fill="#e0262b" stroke="#e0262b" stroke-width=".4" stroke-linejoin="round"/>
<text x="584.6" y="161.13" font-size="6.2" font-weight="bold" fill="#e0262b" stroke="#e0262b" stroke-width="0.2" textLength="21.6" lengthAdjust="spacingAndGlyphs">3.82% )</text>
<text x="583.3" y="179.23" font-size="4.8" fill="#2a2a2e" stroke="#2a2a2e" stroke-width="0.15" textLength="22.7" lengthAdjust="spacingAndGlyphs">빈일자리 수</text>
<text x="621.6" y="179.23" font-size="4.8" fill="#2a2a2e" stroke="#2a2a2e" stroke-width="0.15" textLength="21.4" lengthAdjust="spacingAndGlyphs">빈일자리율</text>
<text x="544.4" y="188.56" font-size="4.6" fill="#2a2a2e" stroke="#2a2a2e" stroke-width="0.15" text-anchor="end">120,000</text>
<text x="685.5" y="188.56" font-size="4.6" fill="#2a2a2e" stroke="#2a2a2e" stroke-width="0.15">1.1</text>
<text x="544.4" y="214.56" font-size="4.6" fill="#2a2a2e" stroke="#2a2a2e" stroke-width="0.15" text-anchor="end">60,000</text>
<text x="685.5" y="214.56" font-size="4.6" fill="#2a2a2e" stroke="#2a2a2e" stroke-width="0.15">0.9</text>
<text x="544.4" y="240.46" font-size="4.6" fill="#2a2a2e" stroke="#2a2a2e" stroke-width="0.15" text-anchor="end">0</text>
<text x="685.5" y="240.46" font-size="4.6" fill="#2a2a2e" stroke="#2a2a2e" stroke-width="0.15">0.7</text>
<text x="562.7" y="251.86" font-size="4.6" fill="#2a2a2e" stroke="#2a2a2e" stroke-width="0.15" text-anchor="middle">25.08</text>
<text x="588.5" y="251.86" font-size="4.6" fill="#2a2a2e" stroke="#2a2a2e" stroke-width="0.15" text-anchor="middle">25.09</text>
<text x="614.7" y="251.86" font-size="4.6" fill="#2a2a2e" stroke="#2a2a2e" stroke-width="0.15" text-anchor="middle">25.10</text>
<text x="640.9" y="251.86" font-size="4.6" fill="#2a2a2e" stroke="#2a2a2e" stroke-width="0.15" text-anchor="middle">25.11</text>
<text x="666.9" y="251.86" font-size="4.6" fill="#2a2a2e" stroke="#2a2a2e" stroke-width="0.15" text-anchor="middle">25.12</text>
<text x="679.2" y="202.71" font-size="4.2" font-weight="bold" fill="#1c1c20" stroke="#1c1c20" stroke-width="0.15" text-anchor="end">78,264 (0.84%)</text>
<text x="643.8" y="218.02" font-size="4.5" fill="#5b5fc7" stroke="#5b5fc7" stroke-width="0.14" textLength="21.0" lengthAdjust="spacingAndGlyphs">빈일자리율</text>
<text x="68.6" y="288.43" font-size="7.3" font-weight="bold" fill="#303037" stroke="#303037" stroke-width="0.2" textLength="53.1" lengthAdjust="spacingAndGlyphs">고용보험 피보험자 수</text>
<text x="128" y="287.44" font-size="5.4" font-weight="bold" fill="#fff" stroke="#fff" stroke-width="0.2" textLength="14.2" lengthAdjust="spacingAndGlyphs">AI 해석</text>
<text x="151" y="287.69" font-size="5.8" fill="#6d6f78" stroke="#6d6f78" stroke-width="0.18" text-anchor="middle">?</text>
<text x="158.5" y="287.48" font-size="4.4" fill="#85878f" stroke="#85878f" stroke-width="0.14" textLength="22.3" lengthAdjust="spacingAndGlyphs">( 단위 : 천명 )</text>
<text x="193.3" y="287.18" font-size="4.4" font-weight="bold" fill="#5a5c66" stroke="#5a5c66" stroke-width="0.16" text-anchor="middle">More</text>
<text x="279.6" y="288.43" font-size="7.3" font-weight="bold" fill="#303037" stroke="#303037" stroke-width="0.2" textLength="71.4" lengthAdjust="spacingAndGlyphs">실업급여 수급자격 인정자 수</text>
<text x="357.3" y="287.44" font-size="5.4" font-weight="bold" fill="#fff" stroke="#fff" stroke-width="0.2" textLength="14.2" lengthAdjust="spacingAndGlyphs">AI 해석</text>
<text x="380.3" y="287.69" font-size="5.8" fill="#6d6f78" stroke="#6d6f78" stroke-width="0.18" text-anchor="middle">?</text>
<text x="387" y="287.48" font-size="4.4" fill="#85878f" stroke="#85878f" stroke-width="0.14" textLength="23" lengthAdjust="spacingAndGlyphs">( 단위 : 천명 )</text>
<text x="422.2" y="287.18" font-size="4.4" font-weight="bold" fill="#5a5c66" stroke="#5a5c66" stroke-width="0.16" text-anchor="middle">More</text>
<text x="490.2" y="288.43" font-size="7.3" font-weight="bold" fill="#303037" stroke="#303037" stroke-width="0.2" textLength="21.8" lengthAdjust="spacingAndGlyphs">채용정보</text>
<text x="518.8" y="287.69" font-size="5.8" fill="#6d6f78" stroke="#6d6f78" stroke-width="0.18" text-anchor="middle">?</text>
<text x="525.5" y="287.48" font-size="4.4" fill="#85878f" stroke="#85878f" stroke-width="0.14" textLength="20.3" lengthAdjust="spacingAndGlyphs">( 단위 : 건 )</text>
<text x="84.5" y="314.46" font-size="4.6" fill="#2a2a2e" stroke="#2a2a2e" stroke-width="0.15" text-anchor="end">375.0</text>
<text x="84.5" y="333.16" font-size="4.6" fill="#2a2a2e" stroke="#2a2a2e" stroke-width="0.15" text-anchor="end">370.0</text>
<text x="84.5" y="351.86" font-size="4.6" fill="#2a2a2e" stroke="#2a2a2e" stroke-width="0.15" text-anchor="end">365.0</text>
<text x="84.5" y="370.66" font-size="4.6" fill="#2a2a2e" stroke="#2a2a2e" stroke-width="0.15" text-anchor="end">360.0</text>
<text x="97" y="381.36" font-size="4.6" fill="#2a2a2e" stroke="#2a2a2e" stroke-width="0.15" text-anchor="middle">24.11</text>
<text x="179.8" y="381.36" font-size="4.6" fill="#2a2a2e" stroke="#2a2a2e" stroke-width="0.15" text-anchor="middle">25.05</text>
<text x="262.4" y="381.36" font-size="4.6" fill="#2a2a2e" stroke="#2a2a2e" stroke-width="0.15" text-anchor="middle">25.11</text>
<text x="164" y="302.76" font-size="4.6" fill="#2a2a2e" stroke="#2a2a2e" stroke-width="0.15" textLength="22.5" lengthAdjust="spacingAndGlyphs">피보험자 수</text>
<text x="263" y="318.11" font-size="4.2" font-weight="bold" fill="#1c1c20" stroke="#1c1c20" stroke-width="0.15" text-anchor="middle">372.5</text>
<text x="290.4" y="314.46" font-size="4.6" fill="#2a2a2e" stroke="#2a2a2e" stroke-width="0.15" text-anchor="end">6.0</text>
<text x="290.4" y="333.16" font-size="4.6" fill="#2a2a2e" stroke="#2a2a2e" stroke-width="0.15" text-anchor="end">4.0</text>
<text x="290.4" y="351.86" font-size="4.6" fill="#2a2a2e" stroke="#2a2a2e" stroke-width="0.15" text-anchor="end">2.0</text>
<text x="290.4" y="370.66" font-size="4.6" fill="#2a2a2e" stroke="#2a2a2e" stroke-width="0.15" text-anchor="end">0.0</text>
<text x="302.7" y="381.36" font-size="4.6" fill="#2a2a2e" stroke="#2a2a2e" stroke-width="0.15" text-anchor="middle">24.11</text>
<text x="388" y="381.36" font-size="4.6" fill="#2a2a2e" stroke="#2a2a2e" stroke-width="0.15" text-anchor="middle">25.05</text>
<text x="472.4" y="381.36" font-size="4.6" fill="#2a2a2e" stroke="#2a2a2e" stroke-width="0.15" text-anchor="middle">25.11</text>
<text x="376.5" y="302.76" font-size="4.6" fill="#2a2a2e" stroke="#2a2a2e" stroke-width="0.15" textLength="19.0" lengthAdjust="spacingAndGlyphs">인정자 수</text>
<text x="473.6" y="343.41" font-size="4.2" font-weight="bold" fill="#1c1c20" stroke="#1c1c20" stroke-width="0.15" text-anchor="middle">2.3</text>
<text x="507" y="314.46" font-size="4.6" fill="#2a2a2e" stroke="#2a2a2e" stroke-width="0.15" text-anchor="end">15,000</text>
<text x="507" y="333.16" font-size="4.6" fill="#2a2a2e" stroke="#2a2a2e" stroke-width="0.15" text-anchor="end">10,000</text>
<text x="507" y="351.86" font-size="4.6" fill="#2a2a2e" stroke="#2a2a2e" stroke-width="0.15" text-anchor="end">5,000</text>
<text x="507" y="370.66" font-size="4.6" fill="#2a2a2e" stroke="#2a2a2e" stroke-width="0.15" text-anchor="end">0</text>
<text x="525.5" y="381.36" font-size="4.6" fill="#2a2a2e" stroke="#2a2a2e" stroke-width="0.15" text-anchor="middle">02/17</text>
<text x="602" y="381.36" font-size="4.6" fill="#2a2a2e" stroke="#2a2a2e" stroke-width="0.15" text-anchor="middle">02/20</text>
<text x="678" y="381.36" font-size="4.6" fill="#2a2a2e" stroke="#2a2a2e" stroke-width="0.15" text-anchor="middle">02/23</text>
<text x="542.6" y="302.76" font-size="4.6" fill="#2a2a2e" stroke="#2a2a2e" stroke-width="0.15" textLength="12.5" lengthAdjust="spacingAndGlyphs">제조업</text>
<text x="570.6" y="302.76" font-size="4.6" fill="#2a2a2e" stroke="#2a2a2e" stroke-width="0.15" textLength="27.6" lengthAdjust="spacingAndGlyphs">도매 및 소매업</text>
<text x="613.6" y="302.76" font-size="4.6" fill="#2a2a2e" stroke="#2a2a2e" stroke-width="0.15" textLength="36.4" lengthAdjust="spacingAndGlyphs">사업시설 관리, 사...</text>
<text x="678.4" y="327.51" font-size="4.2" font-weight="bold" fill="#1c1c20" stroke="#1c1c20" stroke-width="0.15" text-anchor="middle">12,855</text>
<text x="677.6" y="347.51" font-size="4.2" font-weight="bold" fill="#1c1c20" stroke="#1c1c20" stroke-width="0.15" text-anchor="middle">4,667</text></svg>
</body></html>
